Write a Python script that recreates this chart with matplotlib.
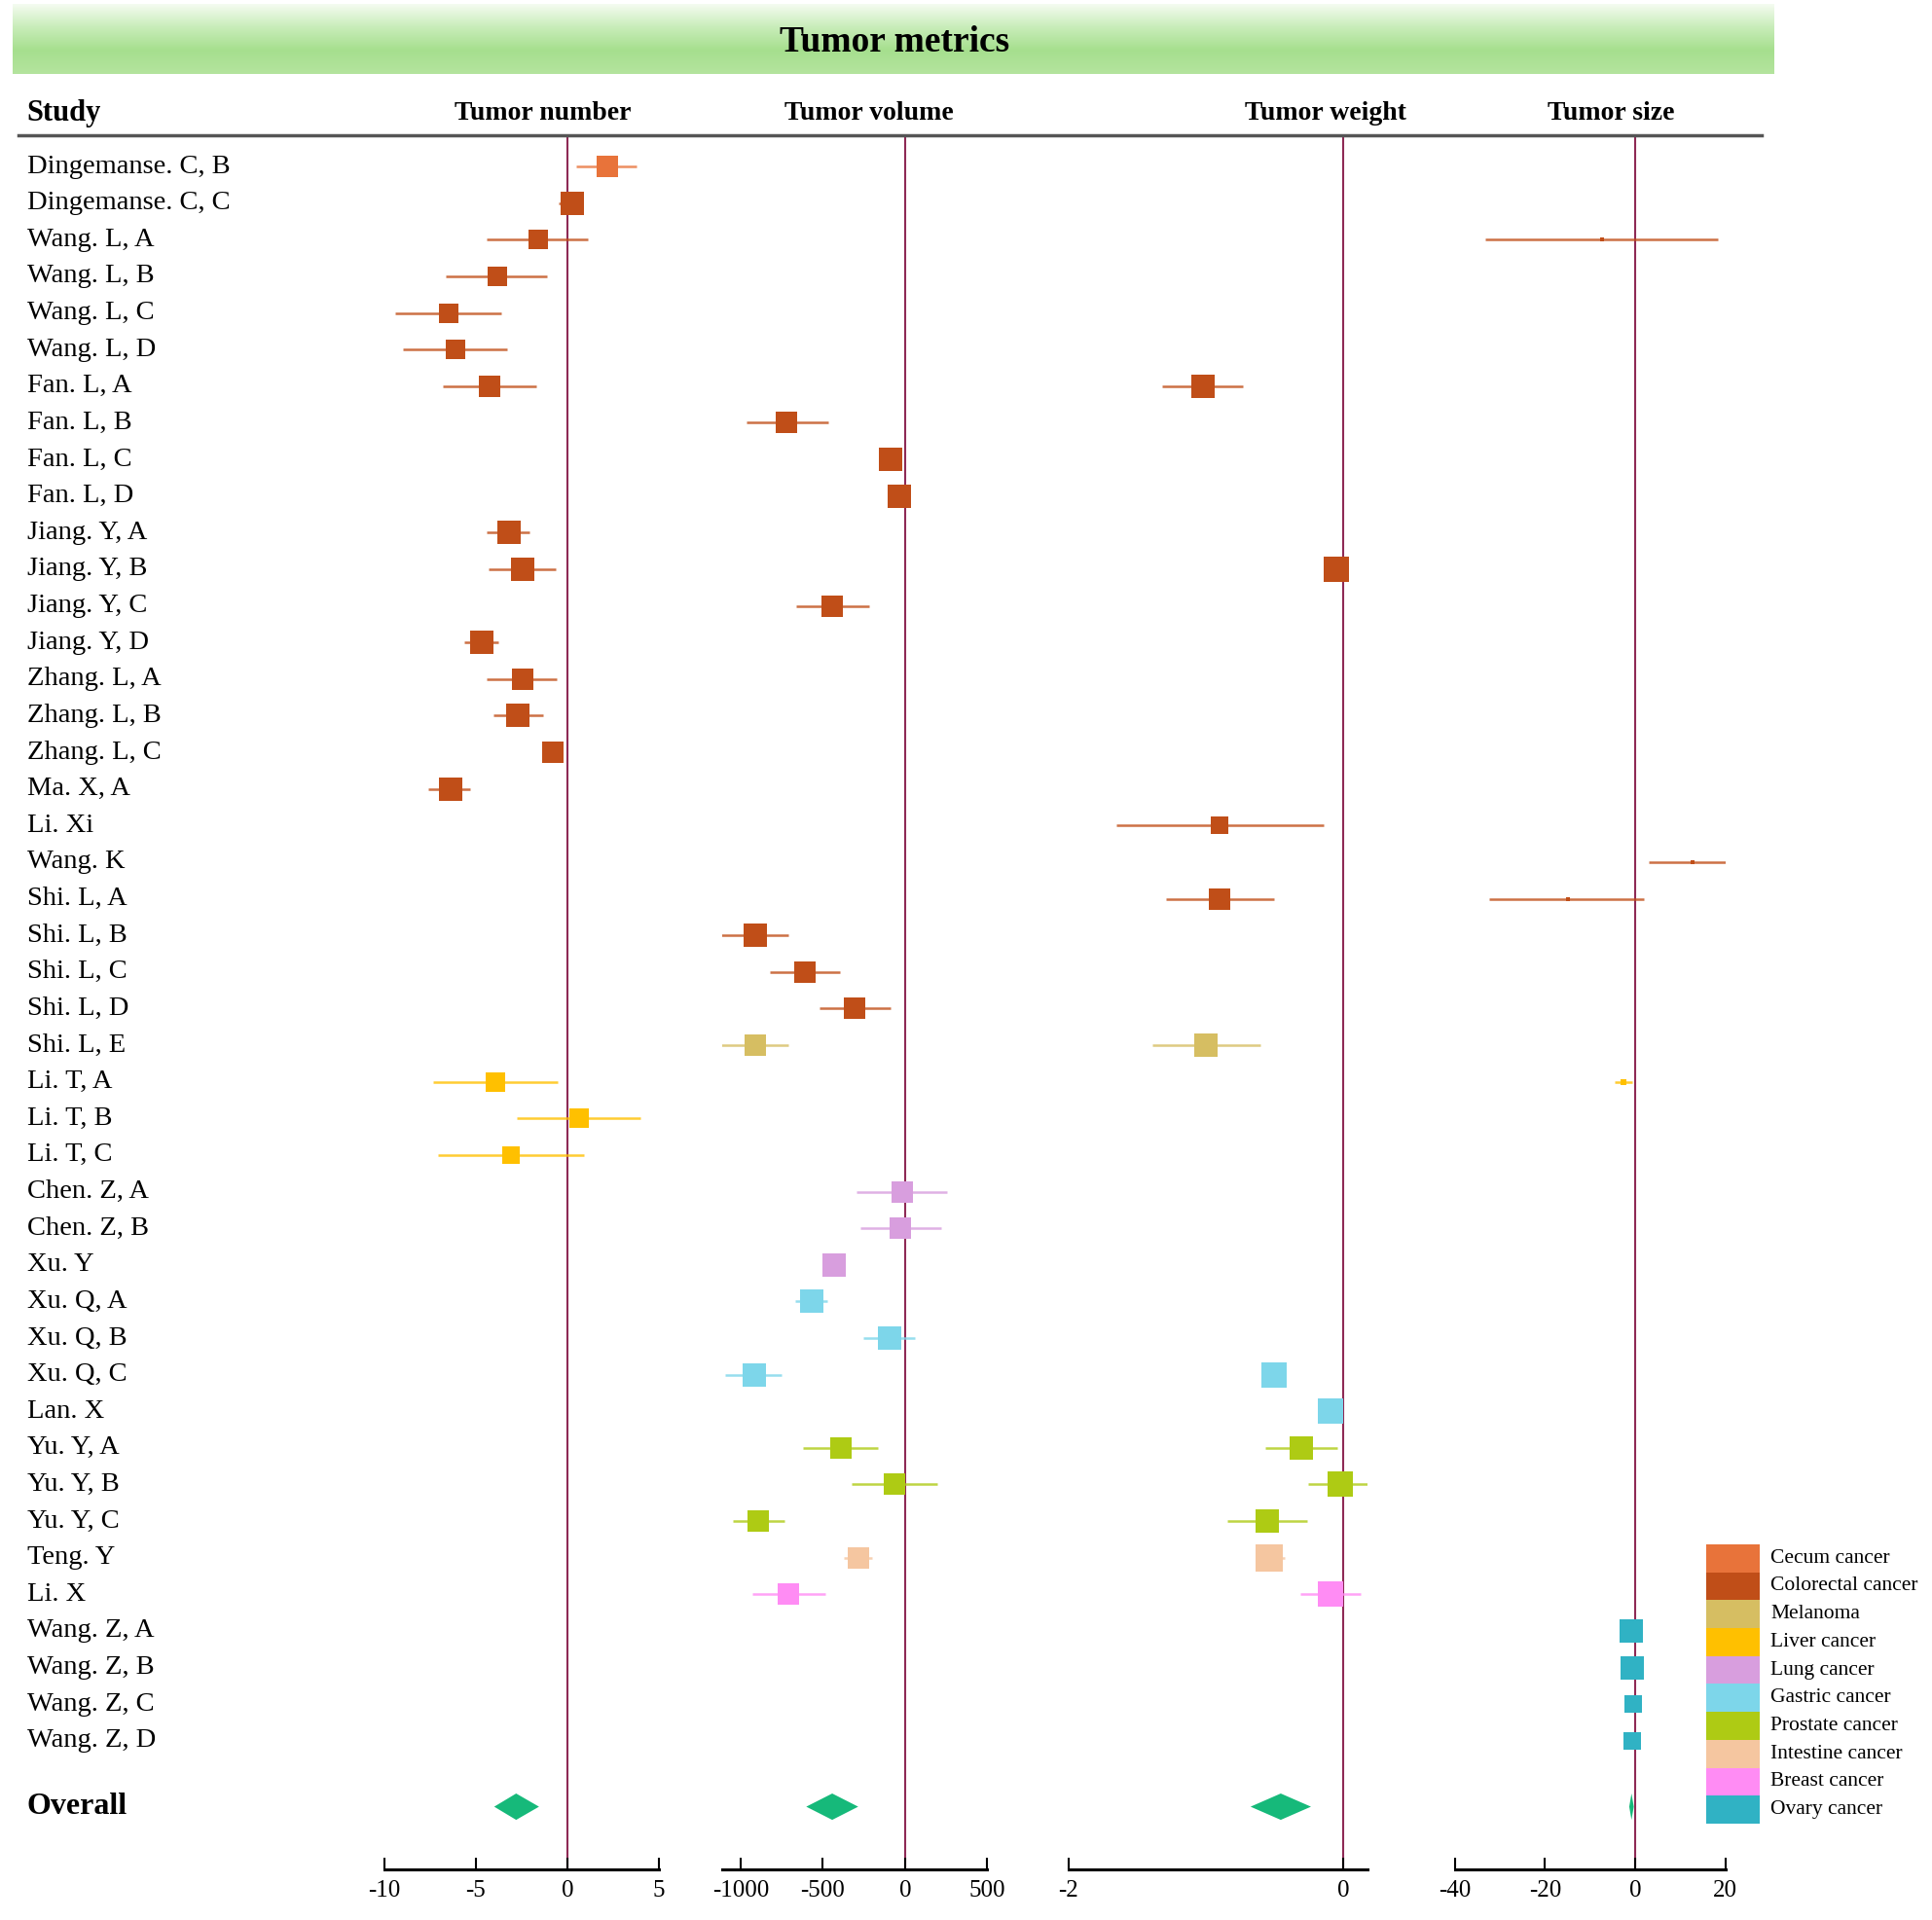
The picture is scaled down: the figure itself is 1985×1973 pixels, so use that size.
import numpy as np
import matplotlib
matplotlib.use("Agg")
import matplotlib.pyplot as plt
from matplotlib.colors import LinearSegmentedColormap
from matplotlib.patches import Polygon, Rectangle
from matplotlib.lines import Line2D

plt.rcParams["font.family"] = ["Liberation Serif", "DejaVu Serif"]
plt.rcParams["axes.unicode_minus"] = False

# study labels, top to bottom
studies = ["Dingemanse. C, B", "Dingemanse. C, C",
           "Wang. L, A", "Wang. L, B", "Wang. L, C", "Wang. L, D",
           "Fan. L, A", "Fan. L, B", "Fan. L, C", "Fan. L, D",
           "Jiang. Y, A", "Jiang. Y, B", "Jiang. Y, C", "Jiang. Y, D",
           "Zhang. L, A", "Zhang. L, B", "Zhang. L, C", "Ma. X, A",
           "Li. Xi", "Wang. K",
           "Shi. L, A", "Shi. L, B", "Shi. L, C", "Shi. L, D", "Shi. L, E",
           "Li. T, A", "Li. T, B", "Li. T, C",
           "Chen. Z, A", "Chen. Z, B", "Xu. Y",
           "Xu. Q, A", "Xu. Q, B", "Xu. Q, C", "Lan. X",
           "Yu. Y, A", "Yu. Y, B", "Yu. Y, C", "Teng. Y", "Li. X",
           "Wang. Z, A", "Wang. Z, B", "Wang. Z, C", "Wang. Z, D"]

cancer_types = ["Cecum cancer", "Colorectal cancer", "Melanoma", "Liver cancer",
                "Lung cancer", "Gastric cancer", "Prostate cancer",
                "Intestine cancer", "Breast cancer", "Ovary cancer"]
cancer_colors = ["#E8733A", "#C04E18", "#D6BE62", "#FFC000", "#D89EDE",
                 "#7DD6EA", "#AECB14", "#F5C6A0", "#FF8CF4", "#30B2C4"]

# cancer type index of each study
study_cancer = [0, 1,
                1, 1, 1, 1,
                1, 1, 1, 1,
                1, 1, 1, 1,
                1, 1, 1, 1,
                1, 1,
                1, 1, 1, 1, 2,
                3, 3, 3,
                4, 4, 4,
                5, 5, 5, 5,
                6, 6, 6, 7, 8,
                9, 9, 9, 9]

# Tumor number
num_rows = [0, 1, 2, 3, 4, 5, 6, 10, 11, 13, 14, 15, 16, 17, 25, 26, 27]
num_est = [2.2, 0.25, -1.6, -3.85, -6.5, -6.1, -4.25, -3.2, -2.45, -4.7,
           -2.45, -2.7, -0.8, -6.4, -3.95, 0.65, -3.1]
num_lo = [0.5, -0.45, -4.4, -6.65, -9.4, -9.0, -6.8, -4.4, -4.3, -5.65,
          -4.4, -4.05, -1.0, -7.6, -7.35, -2.75, -7.1]
num_hi = [3.8, 0.7, 1.1, -1.1, -3.6, -3.3, -1.7, -2.05, -0.65, -3.8,
          -0.6, -1.35, -0.6, -5.3, -0.55, 4.0, 0.9]
num_wt = [5.0, 5.6, 4.4, 4.4, 4.1, 4.4, 4.8, 5.3, 5.4, 5.8,
          5.1, 5.3, 5.1, 5.4, 3.7, 3.7, 3.5]
num_overall = [-2.8, -4.0, -1.55]

# Tumor volume
vol_rows = [7, 8, 9, 12, 21, 22, 23, 24, 28, 29, 30, 31, 32, 33, 35, 36, 37, 38, 39]
vol_est = [-719, -89, -33, -443, -912, -612, -309, -912, -18, -28,
           -429, -569, -96, -918, -392, -65, -892, -285, -711]
vol_lo = [-967, -140, -60, -662, -1118, -823, -522, -1118, -297, -274,
          -470, -669, -256, -1093, -618, -327, -1049, -374, -931]
vol_hi = [-465, -40, -5, -217, -707, -394, -91, -707, 256, 222,
          -390, -471, 61, -750, -165, 199, -734, -203, -486]
vol_wt = [4.5, 5.4, 5.8, 4.8, 5.4, 5.0, 5.1, 5.1, 4.5, 4.7,
          5.6, 5.4, 5.4, 5.4, 5.0, 5.0, 5.1, 5.1, 4.8]
vol_overall = [-443, -601, -285]

# Tumor weight
wgt_rows = [6, 11, 18, 20, 24, 33, 34, 35, 36, 37, 38, 39]
wgt_est = [-1.02, -0.05, -0.90, -0.90, -1.00, -0.50, -0.095, -0.305, -0.024, -0.554, -0.535, -0.095]
wgt_lo = [-1.32, -0.09, -1.65, -1.29, -1.39, -0.54, -0.13, -0.568, -0.253, -0.845, -0.636, -0.312]
wgt_hi = [-0.73, -0.01, -0.14, -0.50, -0.60, -0.46, -0.06, -0.040, 0.201, -0.260, -0.428, 0.128]
wgt_wt = [5.8, 7.1, 3.4, 5.1, 5.3, 6.8, 6.4, 6.1, 6.4, 5.8, 7.3, 6.4]
wgt_overall = [-0.454, -0.674, -0.234]

# Tumor size
size_rows = [2, 19, 20, 25, 40, 41, 42, 43]
size_est = [-7.4, 12.8, -14.9, -2.6, -0.95, -0.66, -0.5, -0.66]
size_lo = [-33.3, 3.0, -32.3, -4.5, -1.2, -0.9, -0.7, -0.9]
size_hi = [18.3, 22.6, 2.0, -0.6, -0.7, -0.4, -0.3, -0.4]
size_wt = [0.1, 0.1, 0.1, 0.4, 6.1, 5.8, 2.9, 3.4]
size_overall = [-0.8, -1.3, -0.3]

panel_titles = ["Tumor number", "Tumor volume", "Tumor weight", "Tumor size"]

overall_y = 44.8
y_top, y_bot = -0.85, 46.5

fig = plt.figure(figsize=(19.85, 19.73), dpi=100)

# green title band
band = fig.add_axes([0.0065, 0.9615, 0.9115, 0.0365])
cmap = LinearSegmentedColormap.from_list("band", ["#F6FCF3", "#C9EDBA", "#A6DF8E", "#B4E49E"])
band.imshow(np.linspace(0, 1, 100).reshape(-1, 1), aspect="auto", cmap=cmap,
            extent=[0, 1, 0, 1])
band.axis("off")
fig.text(0.463, 0.978, "Tumor metrics", ha="center", va="center",
         fontsize=27, fontweight="bold")

# header
fig.text(0.014, 0.941, "Study", ha="left", va="center", fontsize=22, fontweight="bold")
fig.add_artist(Line2D([0.0096, 0.912], [0.9295, 0.9295], transform=fig.transFigure,
                      color="#555555", lw=2.5))

# study labels
lab = fig.add_axes([0.0, 0.0266, 0.199, 0.9029])
lab.set_ylim(y_bot, y_top)
lab.set_xlim(0, 1)
lab.axis("off")
for i, s in enumerate(studies):
    lab.text(0.07, i, s, ha="left", va="center", fontsize=20.5)
lab.text(0.07, overall_y, "Overall", ha="left", va="center", fontsize=23, fontweight="bold")

panels = [
    (num_rows, num_est, num_lo, num_hi, num_wt, num_overall),
    (vol_rows, vol_est, vol_lo, vol_hi, vol_wt, vol_overall),
    (wgt_rows, wgt_est, wgt_lo, wgt_hi, wgt_wt, wgt_overall),
    (size_rows, size_est, size_lo, size_hi, size_wt, size_overall),
]
xlims = [(-10, 5), (-1110, 500), (-2, 0.18), (-40, 20)]
xticks = [[-10, -5, 0, 5], [-1000, -500, 0, 500], [-2, 0], [-40, -20, 0, 20]]
lefts = [0.199, 0.374, 0.553, 0.753]
rights = [0.341, 0.511, 0.708, 0.893]
title_x = [0.281, 0.450, 0.686, 0.834]

for k, (rows, est, lo, hi, wt, ov) in enumerate(panels):
    ax = fig.add_axes([lefts[k], 0.0266, rights[k] - lefts[k], 0.9029])
    ax.set_xlim(*xlims[k])
    ax.set_ylim(y_bot, y_top)
    ax.axvline(0, color="#8E2A55", lw=1.5, zorder=1)
    for r, e, l, h, w in zip(rows, est, lo, hi, wt):
        c = cancer_colors[study_cancer[r]]
        ax.plot([l, h], [r, r], color=c, lw=1.8, alpha=0.8, zorder=2,
                solid_capstyle="butt")
        ax.plot(e, r, marker="s", ms=7.2 * np.sqrt(w), color=c, mew=0, zorder=3)
    e, l, h = ov
    dh = 0.36
    ax.add_patch(Polygon([[l, overall_y], [e, overall_y - dh], [h, overall_y], [e, overall_y + dh]],
                         closed=True, facecolor="#16B97A", edgecolor="none", zorder=3))
    ax.set_xticks(xticks[k])
    ax.set_xticklabels([str(t) for t in xticks[k]])
    ax.set_yticks([])
    for sp in ["top", "left", "right"]:
        ax.spines[sp].set_visible(False)
    ax.spines["bottom"].set_linewidth(2.2)
    ax.tick_params(axis="x", direction="in", length=9, width=1.5, labelsize=18, pad=8)
    fig.text(title_x[k], 0.941, panel_titles[k], ha="center", va="center",
             fontsize=20, fontweight="bold")

# legend
leg = fig.add_axes([0.883, 0.0502, 0.028, 0.1455])
leg.set_xlim(0, 1)
leg.set_ylim(len(cancer_types), 0)
leg.axis("off")
for i, (name, c) in enumerate(zip(cancer_types, cancer_colors)):
    leg.add_patch(Rectangle((0, i), 1, 1, facecolor=c, edgecolor="none"))
    leg.text(1.2, i + 0.5, name, ha="left", va="center", fontsize=15.5)

fig.savefig("out.png", dpi=100)
